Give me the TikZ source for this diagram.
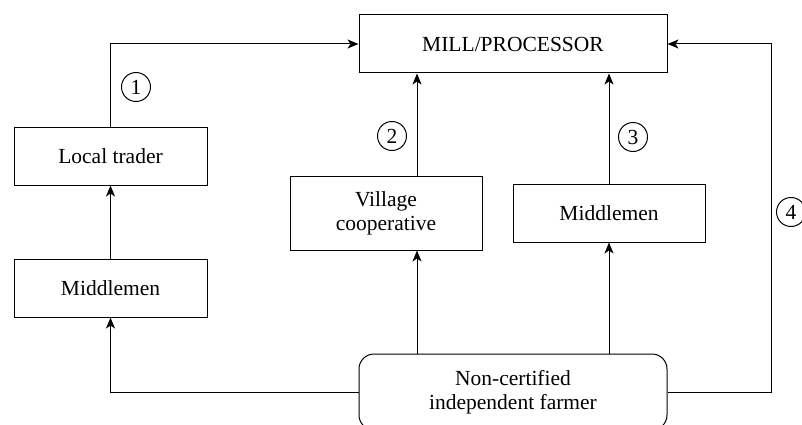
\documentclass[tikz,border=0pt]{standalone}
\usepackage{fontspec}
\setmainfont{Liberation Serif}
\usetikzlibrary{arrows.meta}
\begin{document}
\begin{tikzpicture}[x=1pt,y=-1pt,
  font=\fontsize{21.5}{24}\selectfont,
  box/.style={draw, line width=1pt, align=center, inner sep=0pt},
  num/.style={draw, circle, line width=1pt, minimum size=29pt, inner sep=0pt},
  arr/.style={line width=1pt, -{Stealth[length=11pt,width=9pt,inset=3pt]}}]
\useasboundingbox (0,0) rectangle (802,425);
\clip (0,0) rectangle (802,425);
\node[box, minimum width=308pt, minimum height=58pt] (mill) at (513,44) {MILL/PROCESSOR};
\node[box, minimum width=193pt, minimum height=58pt] (trader) at (110.5,156) {Local trader};
\node[box, minimum width=193pt, minimum height=58pt] (mid1) at (110.5,288) {Middlemen};
\node[box, minimum width=192pt, minimum height=74pt] (coop) at (386,213) {Village\\cooperative};
\node[box, minimum width=192pt, minimum height=58pt] (mid2) at (609,213) {Middlemen};
\node[box, rounded corners=15pt, minimum width=308pt, minimum height=76pt] (farmer) at (513,392) {Non-certified\\independent farmer};
\coordinate (cx) at (417,0);
\coordinate (rt) at (771,44);
\node[num] (n1) at (136,87) {1};
\node[num] (n2) at (392,136) {2};
\node[num] (n3) at (633,137) {3};
\node[num] (n4) at (791,212) {4};
\draw[arr] (trader.north) |- (mill.west);
\draw[arr] (mid1.north) -- (trader.south);
\draw[arr] (farmer.west) -| (mid1.south);
\draw[arr] (farmer.north -| cx) -- (coop.south -| cx);
\draw[arr] (coop.north -| cx) -- (mill.south -| cx);
\draw[arr] (farmer.north -| mid2.south) -- (mid2.south);
\draw[arr] (mid2.north) -- (mill.south -| mid2.north);
\draw[arr] (farmer.east) -| (rt) -- (mill.east);
\end{tikzpicture}
\end{document}
